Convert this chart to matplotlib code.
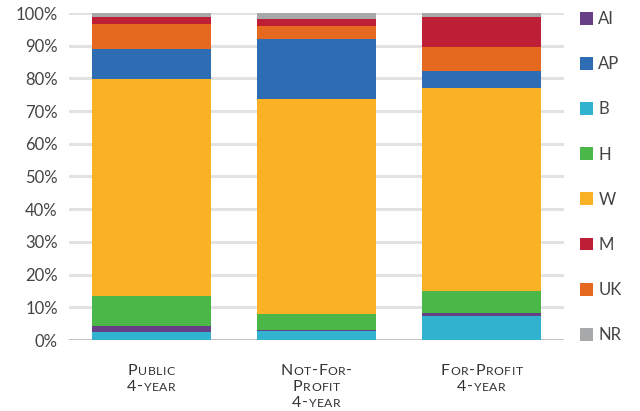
import matplotlib
matplotlib.use("Agg")
import matplotlib.pyplot as plt
from matplotlib.offsetbox import TextArea, HPacker, VPacker, AnnotationBbox
import numpy as np

plt.rcParams['font.family'] = ['Lato', 'DejaVu Sans']

categories = ["Public 4-year", "Not-For-Profit 4-year", "For-Profit 4-year"]
# label lines as shown (rendered in small caps)
label_lines = [
    ["Public", "4-year"],
    ["Not-For-", "Profit", "4-year"],
    ["For-Profit", "4-year"],
]
series_names = ["B", "AI", "H", "W", "AP", "UK", "M", "NR"]
B = [2.3, 2.6, 7.2]
AI = [2.1, 0.6, 1.2]
H = [9.0, 4.9, 6.5]
W = [66.4, 65.6, 62.1]
AP = [9.2, 18.3, 5.2]
UK = [7.6, 4.0, 7.4]
M = [2.1, 2.2, 9.2]
NR = [1.3, 1.8, 1.2]
values = [B, AI, H, W, AP, UK, M, NR]
colors = {
    "AI": "#673f87", "AP": "#2e6db4", "B": "#31b2cf", "H": "#4ab748",
    "W": "#fbb124", "M": "#bf1e37", "UK": "#e56a20", "NR": "#a7a8aa",
}
legend_order = ["AI", "AP", "B", "H", "W", "M", "UK", "NR"]
yticks = [0, 10, 20, 30, 40, 50, 60, 70, 80, 90, 100]

fig = plt.figure(figsize=(6.4, 4.11), dpi=100)
ax = fig.add_axes([69/640, 1-340/411, (564-69)/640, (340-13)/411])

x = np.arange(len(categories))
bottom = np.zeros(len(categories))
handles = {}
for name, vals in zip(series_names, values):
    v = np.array(vals, dtype=float)
    h = ax.bar(x, v, 0.72, bottom=bottom, color=colors[name], zorder=3, label=name)
    handles[name] = h
    bottom += v

ax.set_xlim(-0.5, 2.5)
ax.set_ylim(0, 100)
ax.set_yticks(yticks)
ax.set_yticklabels([f"{t}%" for t in yticks])
for t in yticks:
    ax.axhline(t, color="#c4c4c4" if t == 0 else "#e2e2e2", lw=2.2, zorder=1)
for s in ax.spines.values():
    s.set_visible(False)
ax.tick_params(axis="y", length=0, pad=8, labelsize=12, labelcolor="#444444")
ax.tick_params(axis="x", length=0)
ax.set_xticks([])

# small-caps x labels
def smallcaps_line(text):
    parts = []
    for ch in text:
        if ch.isupper() or ch.isdigit() or ch == "-":
            parts.append(TextArea(ch, textprops=dict(fontsize=11.5, color="#333333")))
        else:
            parts.append(TextArea(ch.upper(), textprops=dict(fontsize=8.8, color="#333333")))
    return HPacker(children=parts, align="baseline", pad=0, sep=0.4)

for xi, lines in zip(x, label_lines):
    rows = [smallcaps_line(l) for l in lines]
    box = VPacker(children=rows, align="center", pad=0, sep=1.2)
    ab = AnnotationBbox(box, (xi, 0), xybox=(0, -17.5), xycoords="data",
                        boxcoords="offset points", box_alignment=(0.5, 1),
                        frameon=False, annotation_clip=False)
    ax.add_artist(ab)

leg = fig.legend([handles[n] for n in legend_order], legend_order,
                 loc="upper left", bbox_to_anchor=(580/640, 1-11/411),
                 frameon=False, fontsize=12, labelspacing=1.75,
                 handlelength=0.8, handleheight=0.8, handletextpad=0.3,
                 borderpad=0, borderaxespad=0)
for t in leg.get_texts():
    t.set_color("#444444")

fig.savefig("out.png", dpi=100)
